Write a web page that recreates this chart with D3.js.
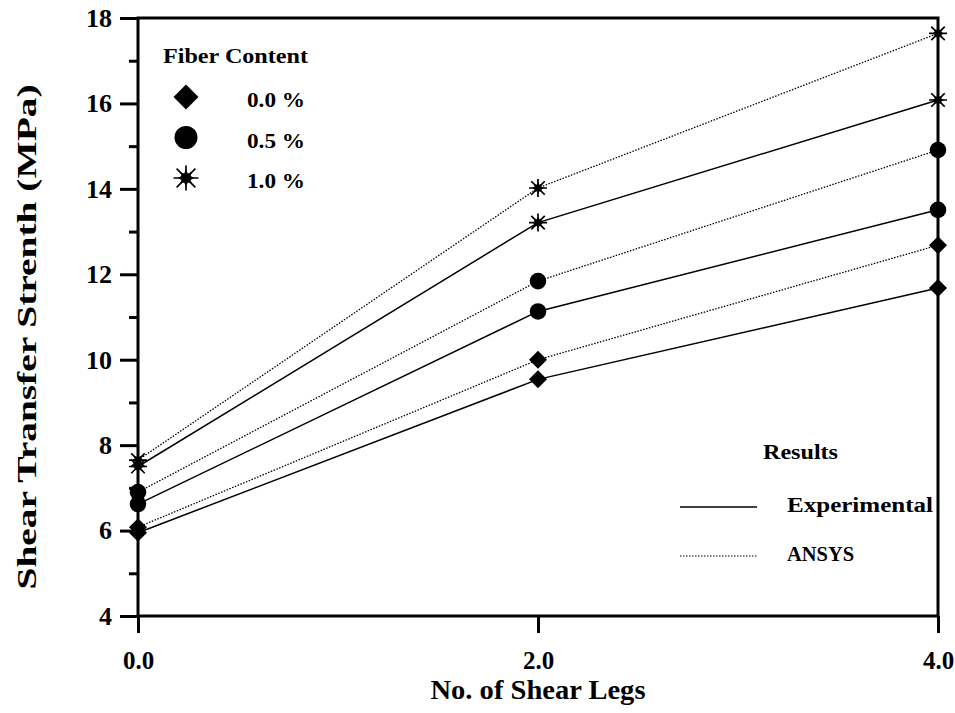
<!DOCTYPE html>
<html>
<head>
<meta charset="utf-8">
<script src="https://cdn.jsdelivr.net/npm/d3@7"></script>
<style>
  body { margin: 0; background: #fff; }
  svg text { font-family: "Liberation Serif", "Times New Roman", serif; font-weight: bold; fill: #000; }
</style>
</head>
<body>
<div id="chart"></div>
<script>
// data
const shearLegs = [0, 2, 4];
const fiberLabels = ['0.0 %', '0.5 %', '1.0 %'];
const markerKinds = ['diamond', 'circle', 'star'];
const experimental = [
    [5.95, 9.54, 11.68],
    [6.62, 11.13, 13.51],
    [7.5, 13.21, 16.08]
];
const ansys = [
    [6.08, 10.0, 12.68],
    [6.9, 11.84, 14.91],
    [7.65, 14.02, 17.64]
];
const yMajorTicks = [4, 6, 8, 10, 12, 14, 16, 18];
const yMinorTicks = [5, 7, 9, 11, 13, 15, 17];
const xTicks = [0, 2, 4];

const W = 955, H = 713;
const svg = d3.select('#chart').append('svg').attr('width', W).attr('height', H);

const x = d3.scaleLinear().domain([0, 4]).range([138, 938]);
const y = d3.scaleLinear().domain([4, 18]).range([616, 18]);

const line = d3.line().x(d => x(d[0])).y(d => y(d[1]));

// data lines
for (let i = 0; i < 3; i++) {
    svg.append('path')
        .datum(shearLegs.map((l, j) => [l, experimental[i][j]]))
        .attr('d', line).attr('fill', 'none')
        .attr('stroke', '#000').attr('stroke-width', 1.5);
    svg.append('path')
        .datum(shearLegs.map((l, j) => [l, ansys[i][j]]))
        .attr('d', line).attr('fill', 'none')
        .attr('stroke', '#000').attr('stroke-width', 1.3)
        .attr('stroke-dasharray', '1.5,1.5');
}

// frame
svg.append('rect')
    .attr('x', x(0)).attr('y', y(18))
    .attr('width', x(4) - x(0)).attr('height', y(4) - y(18))
    .attr('fill', 'none').attr('stroke', '#000').attr('stroke-width', 3);

// y axis ticks
const yAxis = svg.append('g').attr('transform', `translate(${x(0)},0)`)
    .call(d3.axisLeft(y).tickValues(yMajorTicks).tickSize(18).tickPadding(8).tickFormat(d3.format('d')));
yAxis.select('.domain').remove();
yAxis.selectAll('line').attr('stroke-width', 3);
yAxis.selectAll('text').style('font-size', '26px').attr('font-family', null);
svg.append('g').attr('transform', `translate(${x(0)},0)`)
    .call(d3.axisLeft(y).tickValues(yMinorTicks).tickSize(9).tickFormat(''))
    .call(g => g.select('.domain').remove())
    .selectAll('line').attr('stroke-width', 3);

// x axis ticks
const xAxis = svg.append('g').attr('transform', `translate(0,${y(4)})`)
    .call(d3.axisBottom(x).tickValues(xTicks).tickSize(17).tickPadding(18).tickFormat(d3.format('.1f')));
xAxis.select('.domain').remove();
xAxis.selectAll('line').attr('stroke-width', 3);
xAxis.selectAll('text').style('font-size', '25px').attr('font-family', null);

// axis titles
svg.append('text')
    .attr('x', 538).attr('y', 699)
    .attr('text-anchor', 'middle')
    .attr('textLength', 215).attr('lengthAdjust', 'spacingAndGlyphs')
    .style('font-size', '27px')
    .text('No. of Shear Legs');
svg.append('text')
    .attr('transform', 'translate(36,337) rotate(-90)')
    .attr('text-anchor', 'middle')
    .attr('textLength', 505).attr('lengthAdjust', 'spacingAndGlyphs')
    .style('font-size', '27px')
    .text('Shear Transfer Strenth (MPa)');

// markers
function drawMarker(g, kind, cx, cy, s) {
    if (kind === 'diamond') {
        g.append('path')
            .attr('d', `M${cx},${cy - s}L${cx + s},${cy}L${cx},${cy + s}L${cx - s},${cy}Z`)
            .attr('fill', '#000');
    } else if (kind === 'circle') {
        g.append('circle').attr('cx', cx).attr('cy', cy).attr('r', s * 0.92).attr('fill', '#000');
    } else {
        const r = s;
        const d = r * 0.75;
        g.append('path')
            .attr('d', `M${cx},${cy - r}V${cy + r}M${cx - r},${cy}H${cx + r}M${cx - d},${cy - d}L${cx + d},${cy + d}M${cx - d},${cy + d}L${cx + d},${cy - d}`)
            .attr('stroke', '#000').attr('stroke-width', 1.7).attr('fill', 'none');
        // filled 8-point centre
        const pts = d3.range(16).map(k => {
            const a = k * Math.PI / 8 - Math.PI / 2;
            const rr = k % 2 === 0 ? r * 0.66 : r * 0.4;
            return [cx + rr * Math.cos(a), cy + rr * Math.sin(a)];
        });
        g.append('path').attr('d', 'M' + pts.join('L') + 'Z').attr('fill', '#000');
    }
}

const markG = svg.append('g');
for (let i = 0; i < 3; i++) {
    shearLegs.forEach((l, j) => {
        drawMarker(markG, markerKinds[i], x(l), y(ansys[i][j]), 9);
        drawMarker(markG, markerKinds[i], x(l), y(experimental[i][j]), 9);
    });
}

// fiber content legend
const leg = svg.append('g');
leg.append('text').attr('x', 163).attr('y', 63)
    .attr('textLength', 145).attr('lengthAdjust', 'spacingAndGlyphs')
    .style('font-size', '22px').text('Fiber Content');
fiberLabels.forEach((lab, i) => {
    const ly = 97 + i * 40.5;
    drawMarker(leg, markerKinds[i], 186, ly, 12.5);
    leg.append('text').attr('x', 247).attr('y', ly + 10)
        .attr('textLength', 58).attr('lengthAdjust', 'spacingAndGlyphs')
        .style('font-size', '22px').text(lab);
});

// results legend
const res = svg.append('g');
res.append('text').attr('x', 763).attr('y', 459)
    .attr('textLength', 75).attr('lengthAdjust', 'spacingAndGlyphs')
    .style('font-size', '22px').text('Results');
res.append('line').attr('x1', 680).attr('x2', 757).attr('y1', 507).attr('y2', 507)
    .attr('stroke', '#000').attr('stroke-width', 1.6);
res.append('text').attr('x', 787).attr('y', 512)
    .attr('textLength', 146).attr('lengthAdjust', 'spacingAndGlyphs')
    .style('font-size', '20px').text('Experimental');
res.append('line').attr('x1', 680).attr('x2', 757).attr('y1', 556).attr('y2', 556)
    .attr('stroke', '#000').attr('stroke-width', 1.2).attr('stroke-dasharray', '1.5,1.5');
res.append('text').attr('x', 787).attr('y', 561)
    .attr('textLength', 67).attr('lengthAdjust', 'spacingAndGlyphs')
    .style('font-size', '20px').text('ANSYS');
</script>
</body>
</html>
